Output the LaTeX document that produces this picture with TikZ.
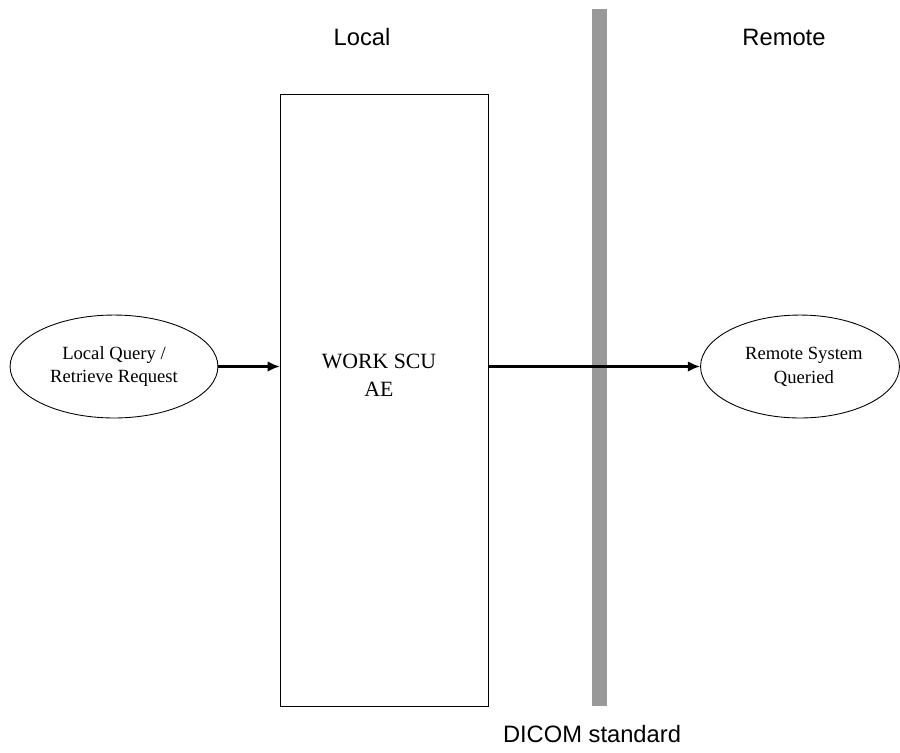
\documentclass[tikz,border=0pt]{standalone}
\usepackage{fontspec}
\setmainfont{Liberation Serif}
\newfontfamily\labelfont{Liberation Sans}
\usetikzlibrary{shapes.geometric,arrows.meta}

\tikzset{
  zonelabel/.style={font=\labelfont\fontsize{13.5}{16}\selectfont, inner sep=0pt},
  procbox/.style={draw=black, line width=0.5pt},
  endpoint/.style={draw=black, line width=0.5pt, ellipse, inner sep=0pt,
    font=\fontsize{10.6}{13.6}\selectfont, align=center},
  boxtext/.style={font=\fontsize{12.4}{15.4}\selectfont, align=center, inner sep=0pt, anchor=base},
  flow/.style={line width=1.3pt, -{Latex[length=7pt,width=6pt]}},
  divider/.style={fill=black!40, draw=none}
}

\begin{document}
\begin{tikzpicture}[x=0.02cm, y=-0.02cm]
  \useasboundingbox (0,0) rectangle (900,752);

  % boundary between the local and remote sides
  \fill[divider] (592,9) rectangle (607,706);

  % application entity
  \draw[procbox] (280,94) rectangle (488,706);
  \coordinate (boxW) at (280,366.5);
  \coordinate (boxE) at (488,366.5);
  \node[boxtext] (ae) at (379,396) {WORK SCU\\AE};

  % request source and remote peer
  \node[endpoint, minimum width=118.3pt, minimum height=58.6pt] (src) at (114,366.5)
    {Local Query /\\Retrieve Request};
  \node[endpoint, minimum width=113.2pt, minimum height=58.6pt] (dst) at (800,366.5)
    {\hspace*{4.5pt}Remote System\\\hspace*{4.5pt}Queried};

  % flows
  \draw[flow] (src.east) -- (boxW);
  \draw[flow] (boxE) -- (dst.west);

  % side and boundary labels
  \node[zonelabel] (local) at (362,37) {Local};
  \node[zonelabel] (remote) at (784,37) {Remote};
  \node[zonelabel] (std) at (592,734) {DICOM standard};
\end{tikzpicture}
\end{document}
